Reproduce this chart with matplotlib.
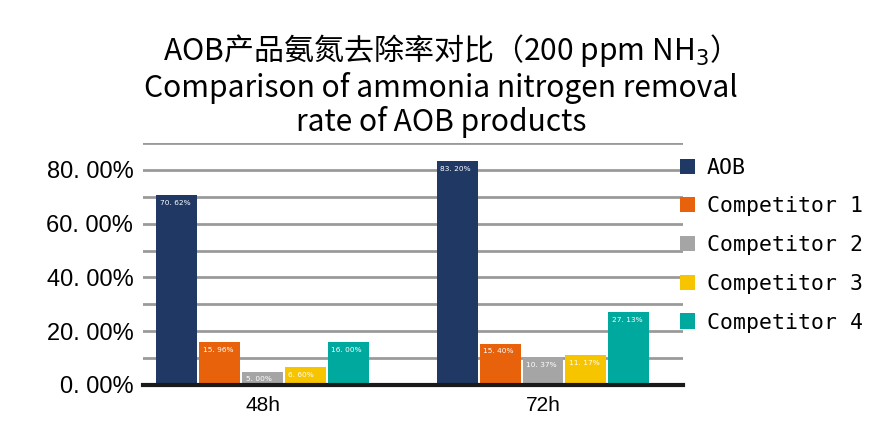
import matplotlib
matplotlib.use("Agg")
import matplotlib.pyplot as plt
import numpy as np

categories = ["48h", "72h"]
series_names = ["AOB", "Competitor 1", "Competitor 2", "Competitor 3", "Competitor 4"]
aob = [70.62, 83.20]
comp1 = [15.96, 15.40]
comp2 = [5.00, 10.37]
comp3 = [6.60, 11.17]
comp4 = [16.00, 27.13]
yticks = [0, 20, 40, 60, 80]
colors = ["#1F3864", "#E8620C", "#A5A5A5", "#F7C500", "#00A99D"]

series = [aob, comp1, comp2, comp3, comp4]

fig = plt.figure(figsize=(8.74, 4.28), dpi=100)
ax = fig.add_axes([0.1636, 0.1005, 0.618, 0.5654])

x = np.arange(len(categories))
slot = 0.153
bw = 0.146
for i, (name, vals, c) in enumerate(zip(series_names, series, colors)):
    pos = x + (i - 2) * slot
    bars = ax.bar(pos, vals, width=bw, color=c, label=name, zorder=3)
    for b, v in zip(bars, vals):
        ax.text(b.get_x() + 0.012, v - 1.8, f"{v:.2f}%".replace(".", ". "),
                color="white", fontsize=5.3, ha="left", va="top",
                family="DejaVu Sans", zorder=4)

ax.set_ylim(0, 90)
ax.set_xlim(-0.427, 1.50)
ax.set_yticks(yticks)
ax.set_yticks(np.arange(10, 91, 20), minor=True)
ax.yaxis.grid(True, which="both", color="#9A9A9A", linewidth=2, zorder=0)
ax.set_yticklabels([f"{v:.2f}%".replace(".", ". ") for v in yticks],
                   fontsize=17, family="Liberation Sans")
ax.tick_params(axis="y", which="both", length=0, pad=7)
ax.set_xticks(x)
ax.set_xticklabels(categories, fontsize=15, family="Liberation Sans")
ax.tick_params(axis="x", length=0, pad=8)
for s in ["top", "right", "left"]:
    ax.spines[s].set_visible(False)
ax.spines["bottom"].set_color("#1A1A1A")
ax.spines["bottom"].set_linewidth(3)
ax.spines["bottom"].set_zorder(5)

fig.text(0.505, 0.801, "AOB产品氨氮去除率对比（200 ppm NH$_3$）\nComparison of ammonia nitrogen removal\nrate of AOB products",
         ha="center", va="center", fontsize=21.6, linespacing=1.09,
         family=["Noto Sans CJK SC", "DejaVu Sans"])

leg = fig.legend(loc="upper left", bbox_to_anchor=(0.756, 0.677), frameon=False,
                 prop={"family": "DejaVu Sans Mono", "size": 15.5},
                 handlelength=0.7, handleheight=0.7, handletextpad=0.55,
                 labelspacing=0.87)

fig.savefig("out.png", dpi=100)
